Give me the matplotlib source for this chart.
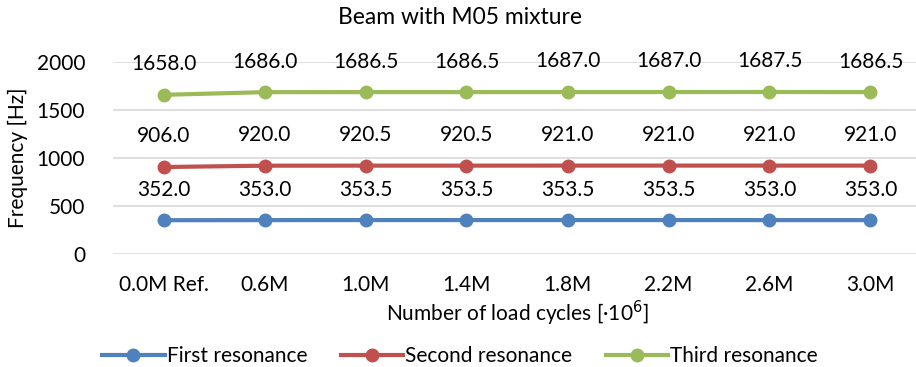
import matplotlib
matplotlib.use("Agg")
import matplotlib.pyplot as plt

categories = ["0.0M Ref.", "0.6M", "1.0M", "1.4M", "1.8M", "2.2M", "2.6M", "3.0M"]
first = [352.0, 353.0, 353.5, 353.5, 353.5, 353.5, 353.0, 353.0]
second = [906.0, 920.0, 920.5, 920.5, 921.0, 921.0, 921.0, 921.0]
third = [1658.0, 1686.0, 1686.5, 1686.5, 1687.0, 1687.0, 1687.5, 1686.5]
series_names = ["First resonance", "Second resonance", "Third resonance"]
colors = ["#4F81BD", "#C0504D", "#9BBB59"]
yticks = [0, 500, 1000, 1500, 2000]

plt.rcParams['font.family'] = ['Lato', 'DejaVu Sans']
FS = 15
W, H = 916, 367
fig = plt.figure(figsize=(W/100, H/100), dpi=100)
left, right, top, bottom = 113, 921, 62, 254
ax = fig.add_axes([left/W, 1 - bottom/H, (right-left)/W, (bottom-top)/H])
x = list(range(len(categories)))
for vals, name, c in zip([first, second, third], series_names, colors):
    ax.plot(x, vals, color=c, lw=3.0, marker='o', ms=9, label=name, zorder=3, clip_on=False)
    for xi, v in zip(x, vals):
        ax.annotate(f"{v:.1f}", (xi, v), xytext=(0, 22), textcoords='offset points',
                    ha='center', va='center', fontsize=FS, color='#000000')
ax.set_xlim(-0.5, 7.5)
ax.set_ylim(0, 2000)
ax.set_yticks(yticks)
ax.set_xticks(x)
ax.set_xticklabels(categories)
ax.grid(axis='y', color='#D9D9D9', lw=1.2)
ax.set_axisbelow(True)
for s in ax.spines.values():
    s.set_visible(False)
ax.tick_params(length=0, labelsize=FS, colors='#000000')
ax.tick_params(axis='y', pad=20)
ax.tick_params(axis='x', pad=15)
fig.text(460/W, 1 - 18/H, "Beam with M05 mixture", ha='center', va='center', fontsize=16.5)
fig.text(18/W, 1 - 158/H, "Frequency [Hz]", ha='center', va='center', rotation=90, fontsize=FS)
fig.text(517/W, 1 - 313/H, "Number of load cycles [·10$^{6}$]", ha='center', va='center', fontsize=FS)
fig.legend(loc='center', bbox_to_anchor=(460/W, 1 - 356/H), ncol=3, frameon=False,
           fontsize=FS, handlelength=3.0, columnspacing=1.6, handletextpad=0.1)
fig.savefig("out.png", dpi=100)
